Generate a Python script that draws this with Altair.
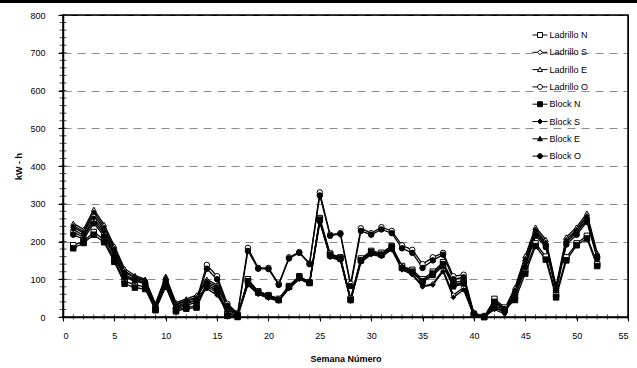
import altair as alt
import pandas as pd

weeks = list(range(1, 53))

ladrillo_e = [248, 232, 285, 245, 188, 128, 110, 100, 35, 108, 38, 48, 58, 100, 85, 30, 8, 95, 68, 58, 48, 82, 108, 92, 258, 165, 158, 48, 152, 172, 168, 185, 135, 122, 95, 115, 140, 85, 92, 8, 2, 42, 22, 78, 162, 238, 205, 82, 212, 238, 275, 170]
block_e = [242, 226, 278, 238, 182, 122, 106, 97, 32, 104, 34, 44, 52, 95, 80, 25, 5, 90, 65, 55, 45, 80, 105, 90, 255, 162, 155, 45, 150, 170, 165, 182, 132, 120, 92, 110, 135, 80, 88, 6, 0, 38, 18, 72, 155, 232, 198, 78, 205, 232, 268, 165]
ladrillo_s = [238, 222, 270, 232, 178, 118, 104, 95, 30, 100, 32, 42, 50, 80, 65, 20, 5, 88, 62, 52, 45, 78, 102, 90, 255, 160, 152, 45, 148, 168, 162, 180, 128, 115, 82, 88, 125, 58, 78, 5, 0, 25, 12, 68, 150, 228, 195, 76, 205, 230, 265, 165]
block_s = [232, 216, 262, 226, 170, 112, 100, 92, 28, 96, 28, 38, 45, 75, 58, 15, 2, 85, 60, 50, 42, 75, 100, 88, 250, 158, 150, 42, 145, 165, 160, 178, 125, 112, 80, 85, 120, 52, 72, 3, 0, 20, 8, 62, 142, 222, 190, 72, 198, 225, 258, 160]
ladrillo_o = [225, 212, 255, 220, 165, 108, 98, 90, 25, 95, 25, 35, 45, 138, 108, 35, 10, 183, 130, 130, 88, 158, 172, 142, 330, 218, 222, 88, 235, 222, 238, 228, 190, 178, 140, 158, 170, 108, 112, 10, 3, 30, 18, 65, 140, 222, 190, 75, 198, 225, 258, 160]
block_o = [218, 206, 248, 214, 160, 104, 96, 88, 22, 90, 22, 30, 40, 128, 100, 30, 8, 175, 128, 127, 85, 155, 170, 140, 322, 215, 220, 82, 228, 218, 232, 222, 182, 170, 130, 150, 165, 100, 105, 8, 1, 25, 15, 60, 132, 215, 185, 70, 192, 218, 252, 155]
ladrillo_n = [190, 200, 225, 205, 152, 95, 85, 80, 20, 85, 18, 25, 30, 90, 75, 8, 2, 100, 68, 58, 48, 82, 108, 92, 262, 168, 158, 48, 155, 175, 170, 188, 135, 125, 100, 120, 145, 92, 95, 8, 0, 48, 25, 55, 125, 195, 160, 60, 158, 195, 215, 140]
block_n = [182, 196, 218, 198, 146, 88, 78, 74, 18, 80, 15, 22, 25, 85, 70, 3, 0, 95, 65, 55, 45, 80, 105, 90, 258, 165, 155, 45, 150, 172, 165, 185, 130, 120, 95, 115, 140, 85, 90, 6, 0, 40, 20, 45, 115, 188, 152, 52, 150, 190, 208, 135]

series_names = ["Ladrillo N", "Ladrillo S", "Ladrillo E", "Ladrillo O",
                "Block N", "Block S", "Block E", "Block O"]
series_values = [ladrillo_n, ladrillo_s, ladrillo_e, ladrillo_o,
                 block_n, block_s, block_e, block_o]

x_ticks = list(range(0, 56, 5))
y_ticks = list(range(0, 801, 100))
x_minor = list(range(0, 56, 1))
y_minor = list(range(0, 801, 20))
x_range = [0, 55]
y_range = [0, 800]

rows = []
for name, vals in zip(series_names, series_values):
    for w, v in zip(weeks, vals):
        rows.append({"week": w, "value": v, "series": name})
df = pd.DataFrame(rows)

FONT = "Liberation Sans"
W, H = 565, 302

fills = ["white"] * 4 + ["black"] * 4
strokes = ["black"] * 8
point_shapes = ["square", "diamond", "triangle-up", "circle"] * 2
point_sizes = [30, 22, 26, 30] * 2

r = 0.33
legend_paths = [
    f"M-1,0H-{r}M{r},0H1M-{r},-{r}H{r}V{r}H-{r}Z",
    f"M-1,0H-{r}M{r},0H1M0,-{r}L{r},0L0,{r}L-{r},0Z",
    f"M-1,0H-0.2M0.2,0H1M0,-{r}L{r},{r*0.8}H-{r}Z",
    f"M-1,0H-{r}M{r},0H1M-{r},0A{r},{r} 0 1,0 {r},0A{r},{r} 0 1,0 -{r},0Z",
] * 2

x_scale = alt.Scale(domain=x_range, nice=False)
y_scale = alt.Scale(domain=y_range, nice=False)

x_axis = alt.Axis(values=x_ticks, title="Semana Número", grid=False,
                  tickSize=4, labelPadding=10, titlePadding=14)
y_axis = alt.Axis(values=y_ticks, title="kW - h", grid=True,
                  tickSize=5, labelPadding=13, titlePadding=6)

base = alt.Chart(df)

lines = base.mark_line(color="black", strokeWidth=1.3).encode(
    x=alt.X("week:Q", scale=x_scale, axis=x_axis),
    y=alt.Y("value:Q", scale=y_scale, axis=y_axis),
    detail="series:N",
)

point_layers = []
for name, shp, fc, sz in zip(series_names, point_shapes, fills, point_sizes):
    point_layers.append(
        base.transform_filter(alt.datum.series == name).mark_point(
            shape=shp, filled=True, fill=fc, stroke="black", strokeWidth=1,
            size=sz, opacity=1
        ).encode(
            x=alt.X("week:Q", scale=x_scale, axis=x_axis),
            y=alt.Y("value:Q", scale=y_scale, axis=y_axis),
        )
    )

legend_spec = alt.Legend(title=None, orient="none", legendX=469, legendY=12,
                         symbolSize=225, symbolStrokeColor="black",
                         symbolStrokeWidth=1, symbolOpacity=1,
                         labelFont=FONT, labelFontSize=9, labelColor="black",
                         labelOffset=1.5, rowPadding=4.3, padding=0)

legend_layer = base.transform_filter("datum.week < 0").mark_point(
    filled=False, strokeWidth=1, opacity=1
).encode(
    x=alt.X("week:Q", scale=x_scale, axis=x_axis),
    y=alt.Y("value:Q", scale=y_scale, axis=y_axis),
    shape=alt.Shape("series:N", scale=alt.Scale(domain=series_names, range=legend_paths),
                    legend=legend_spec),
    fill=alt.Fill("series:N", scale=alt.Scale(domain=series_names, range=fills),
                  legend=legend_spec),
    stroke=alt.Stroke("series:N", scale=alt.Scale(domain=series_names, range=strokes),
                      legend=legend_spec),
)

xm_df = pd.DataFrame({"week": x_minor})
ym_df = pd.DataFrame({"value": y_minor})
one_df = pd.DataFrame({"k": [0]})
frame_df = pd.DataFrame({"week": [x_range[0]], "week2": [x_range[1]],
                         "value": [y_range[0]], "value2": [y_range[1]]})

x_minor_ticks = alt.Chart(xm_df).mark_tick(color="black", thickness=1, size=5).encode(
    x=alt.X("week:Q", scale=x_scale, axis=x_axis), y=alt.value(H)
)
y_minor_ticks = alt.Chart(ym_df).mark_tick(color="black", thickness=1, size=7).encode(
    y=alt.Y("value:Q", scale=y_scale, axis=y_axis), x=alt.value(0.01)
)

frame = alt.Chart(frame_df).mark_rect(
    fill="white", fillOpacity=0, stroke="black", strokeWidth=1.5, strokeOpacity=1
).encode(
    x=alt.X("week:Q", scale=x_scale, axis=x_axis), x2="week2:Q",
    y=alt.Y("value:Q", scale=y_scale, axis=y_axis), y2="value2:Q",
)

top_band = alt.Chart(one_df).mark_rect(color="black").encode(
    x=alt.value(-63), x2=alt.value(W + 9), y=alt.value(-15), y2=alt.value(-12)
)

chart = alt.layer(
    frame, lines, *point_layers, legend_layer, x_minor_ticks, y_minor_ticks, top_band
).properties(
    width=W, height=H,
    background="white",
    autosize=alt.AutoSizeParams(type="none"),
    padding={"left": 63, "top": 15, "right": 9, "bottom": 51},
).configure_view(
    stroke="black", strokeWidth=1
).configure_axis(
    labelFont=FONT, labelFontSize=9, labelColor="black",
    titleFont=FONT, titleFontSize=9, titleFontWeight="bold", titleColor="black",
    domainColor="black", domainWidth=1.5, tickColor="black", tickWidth=1,
    gridColor="#8c8c8c", gridDash=[8, 6], gridWidth=1,
)

chart.save("out.html", embed_options={"renderer": "svg", "actions": False})
